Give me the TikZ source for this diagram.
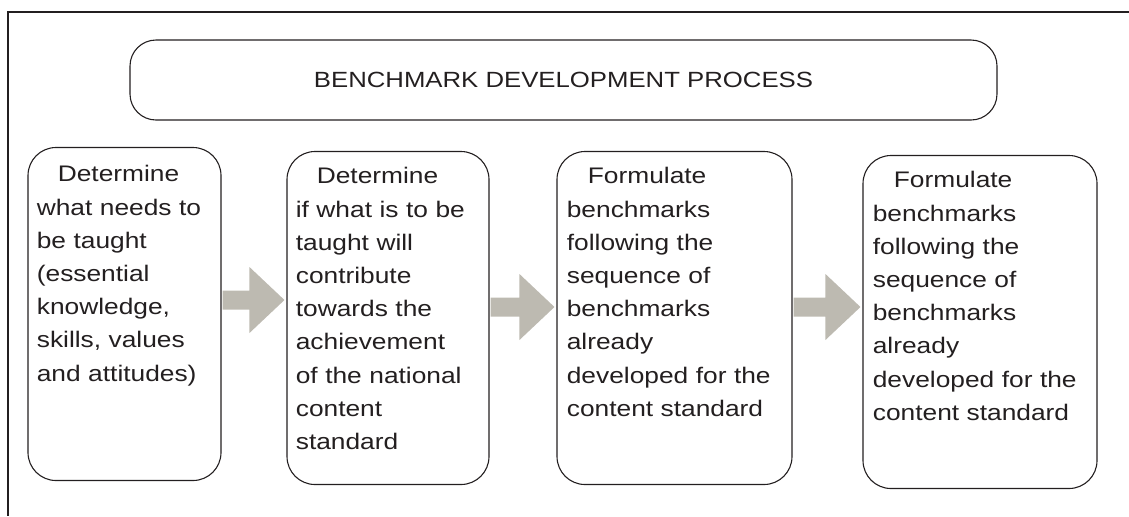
\documentclass[tikz,border=0pt]{standalone}
\usepackage{fontspec}
\setmainfont{Liberation Sans}[FakeStretch=1.17]
\usetikzlibrary{calc,backgrounds}
\definecolor{inkgray}{HTML}{231F20}
\definecolor{arrowgray}{HTML}{BDBAB1}

\begin{document}
\begin{tikzpicture}[x=0.5pt,y=-0.5pt,
    titlebox/.style={draw=inkgray, line width=0.55pt, rounded corners=13pt,
        minimum width=433.5pt, minimum height=40pt, inner sep=0pt,
        text=inkgray, font=\fontsize{11pt}{13pt}\selectfont},
    stepbox/.style={draw=inkgray, line width=0.55pt, rounded corners=14pt,
        minimum height=166.5pt, inner sep=0pt},
    steptext/.style={anchor=base west, align=left, text width=115pt,
        inner sep=0pt, text=inkgray, font=\fontsize{11.25pt}{16.6pt}\selectfont},
    flow/.style={fill=arrowgray}]
    \useasboundingbox (0,0) rectangle (1129,516);

    % Frame (top and left only)
    \draw[line width=1pt, inkgray] (1129,12) -- (8,12) -- (8,516);

    % Heading
    \node[titlebox] (title) at (563.5,80) {BENCHMARK DEVELOPMENT PROCESS};

    % The four steps
    \node[stepbox, minimum width=96.5pt] (b1) at (124.5,314) {};
    \node[stepbox, minimum width=101pt] (b2) at (388,318) {};
    \node[stepbox, minimum width=117.5pt] (b3) at (674.5,318) {};
    \node[stepbox, minimum width=117pt] (b4) at (980,322) {};

    \node[steptext] (t1) at ([xshift=4.5pt,yshift=-17.5pt]b1.north west)
        {\hspace*{10.5pt}Determine\\what needs to\\be taught\\(essential\\knowledge,\\skills, values\\and attitudes)};
    \node[steptext] (t2) at ([xshift=4.5pt,yshift=-16.5pt]b2.north west)
        {\hspace*{10.5pt}Determine\\if what is to be\\taught will\\contribute\\towards the\\achievement\\of the national\\content\\standard};
    \node[steptext] (t3) at ([xshift=5pt,yshift=-16.5pt]b3.north west)
        {\hspace*{10.5pt}Formulate\\benchmarks\\following the\\sequence of\\benchmarks\\already\\developed for the\\content standard};
    \node[steptext] (t4) at ([xshift=5pt,yshift=-16.5pt]b4.north west)
        {\hspace*{10.5pt}Formulate\\benchmarks\\following the\\sequence of\\benchmarks\\already\\developed for the\\content standard};

    % Block arrows between the steps
    \begin{scope}[on background layer]
        \foreach \from/\to/\y in {b1/b2/300, b2/b3/307, b3/b4/307} {
            \path (\from.east |- 0,\y) coordinate (tail) (\to.west |- 0,\y) coordinate (tip);
            \fill[flow] ($(tail)+(1,-9.5)$) -- ($(tip)+(-37,-9.5)$) -- ($(tip)+(-37,-33)$)
                -- ($(tip)+(-2,0)$) -- ($(tip)+(-37,33)$) -- ($(tip)+(-37,9.5)$)
                -- ($(tail)+(1,9.5)$) -- cycle;
        }
    \end{scope}
\end{tikzpicture}
\end{document}
